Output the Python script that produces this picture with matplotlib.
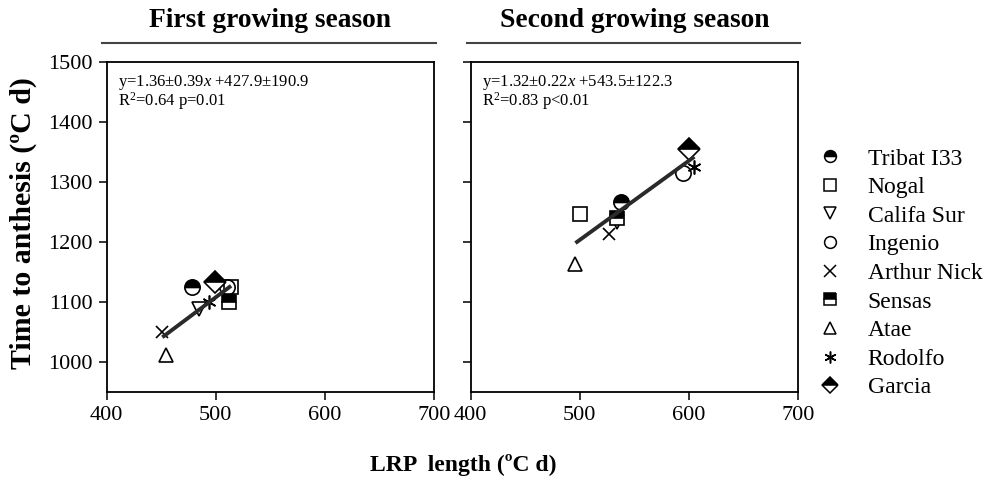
import matplotlib
matplotlib.use("Agg")
import matplotlib.pyplot as plt
from matplotlib.lines import Line2D
import numpy as np

plt.rcParams['font.family'] = ['Liberation Serif', 'DejaVu Serif']
plt.rcParams['mathtext.fontset'] = 'custom'
plt.rcParams['mathtext.rm'] = 'Liberation Serif'
plt.rcParams['mathtext.it'] = 'Liberation Serif:italic'
plt.rcParams['mathtext.bf'] = 'Liberation Serif:bold'

# ---------------- data ----------------
cultivars = ["Tribat I33", "Nogal", "Califa Sur", "Ingenio", "Arthur Nick",
             "Sensas", "Atae", "Rodolfo", "Garcia"]

# First growing season
lrp_s1 = [478, 514, 485, 510, 451, 512, 454, 494, 499]
anth_s1 = [1125, 1125, 1088, 1125, 1050, 1100, 1012, 1100, 1133]

# Second growing season
lrp_s2 = [538, 500, 534, 595, 527, 534, 496, 605, 600]
anth_s2 = [1267, 1247, 1233, 1315, 1213, 1240, 1163, 1325, 1355]

# regression coefficients (slope, intercept)
fit_s1 = (1.36, 427.9)
fit_s2 = (1.32, 543.5)

eq_s1 = ["y=1.36±0.39$\\it{x}$ +427.9±190.9", "R$^2$=0.64 p=0.01"]
eq_s2 = ["y=1.32±0.22$\\it{x}$ +543.5±122.3", "R$^2$=0.83 p<0.01"]

titles = ["First growing season", "Second growing season"]
xticks = [400, 500, 600, 700]
yticks = [1000, 1100, 1200, 1300, 1400, 1500]

# marker styles for each cultivar
styles = [
    dict(marker='o', fillstyle='top'),
    dict(marker='s', fillstyle='none'),
    dict(marker='v', fillstyle='none'),
    dict(marker='o', fillstyle='none'),
    dict(marker='x', fillstyle='full'),
    dict(marker='s', fillstyle='top'),
    dict(marker='^', fillstyle='none'),
    dict(marker=(6, 2, 0), fillstyle='full'),
    dict(marker='D', fillstyle='top'),
]

fig = plt.figure(figsize=(9.89, 4.82), dpi=100)
W, H = 989, 482
axes = [fig.add_axes([106.7 / W, (H - 392) / H, 327.3 / W, 330 / H]),
        fig.add_axes([470.7 / W, (H - 392) / H, 327.3 / W, 330 / H])]

datasets = [(lrp_s1, anth_s1, fit_s1, eq_s1), (lrp_s2, anth_s2, fit_s2, eq_s2)]

for i, (ax, (xs, ys, fit, eq)) in enumerate(zip(axes, datasets)):
    for j, name in enumerate(cultivars):
        st = styles[j]
        m = st['marker']
        ms = 11 if m in ('o', 'D') else (8 if m == 'x' else 10)
        ax.plot([xs[j]], [ys[j]], linestyle='none', marker=m,
                fillstyle=st['fillstyle'], markersize=ms,
                markerfacecolor='black', markerfacecoloralt='white',
                markeredgecolor='black', markeredgewidth=1.2, color='black',
                zorder=3)
    xr = np.array([min(xs), max(xs)])
    ax.plot(xr, fit[0] * xr + fit[1], color='#2a2a2a', lw=2.8, zorder=4,
            solid_capstyle='butt')
    ax.set_xlim(400, 700)
    ax.set_ylim(950, 1500)
    ax.set_xticks(xticks)
    ax.set_yticks(yticks)
    ax.tick_params(direction='out', length=6, width=1.1, labelsize=16,
                   pad=4, colors='black')
    if i == 1:
        ax.set_yticklabels([])
    for sp in ax.spines.values():
        sp.set_linewidth(1.3)
        sp.set_color('black')
    ax.text(0.035, 0.968, eq[0] + "\n" + eq[1], transform=ax.transAxes,
            fontsize=12, va='top', ha='left', linespacing=0.92)
    ax.text(0.5, 1.127, titles[i], transform=ax.transAxes, fontsize=19.8,
            fontweight='bold', ha='center', va='center')
    x0 = -0.015 if i == 0 else -0.011
    ax.plot([x0, 1.005], [1.058, 1.058], transform=ax.transAxes,
            color='#444444', lw=1.5, clip_on=False)

fig.text(23 / W, 1 - 223 / H, "Time to anthesis (ºC d)", fontsize=21.5,
         fontweight='bold', rotation=90, ha='center', va='center')
fig.text(463 / W, 1 - 465 / H, "LRP  length (ºC d)", fontsize=17,
         fontweight='bold', ha='center', va='center')

handles = []
for j, name in enumerate(cultivars):
    st = styles[j]
    handles.append(Line2D([], [], linestyle='none', marker=st['marker'],
                          fillstyle=st['fillstyle'], markersize=8.5,
                          markerfacecolor='black', markerfacecoloralt='white',
                          markeredgecolor='black', markeredgewidth=1.1,
                          color='black'))
fig.legend(handles, cultivars, loc='upper left',
           bbox_to_anchor=(818 / W, 1 - 148 / H), frameon=False,
           fontsize=17, handlelength=1.0, handletextpad=1.1,
           labelspacing=0.3, borderpad=0, borderaxespad=0)

fig.savefig("out.png", dpi=100)
